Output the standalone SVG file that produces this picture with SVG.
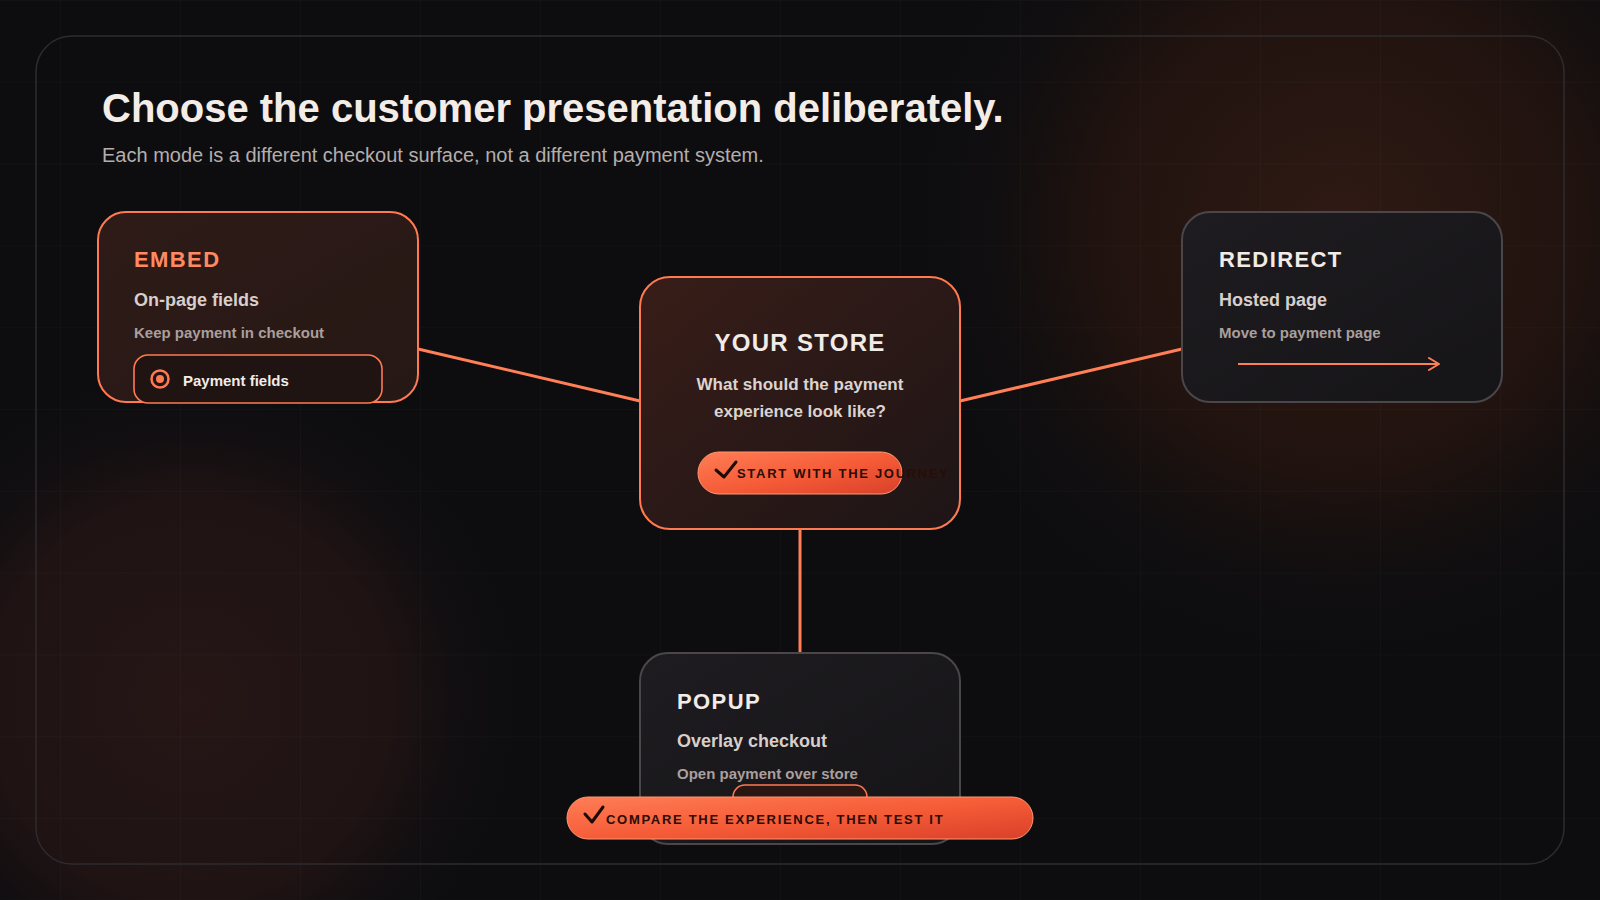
<svg xmlns="http://www.w3.org/2000/svg" width="1600" height="900" viewBox="0 0 1600 900">
  <defs>
    <radialGradient id="glowTR" cx="1340" cy="230" r="440" gradientUnits="userSpaceOnUse">
      <stop offset="0" stop-color="#301a15" stop-opacity="1"/>
      <stop offset="0.55" stop-color="#27150f" stop-opacity="0.75"/>
      <stop offset="1" stop-color="#0d0d10" stop-opacity="0"/>
    </radialGradient>
    <radialGradient id="glowBL" cx="190" cy="700" r="340" gradientUnits="userSpaceOnUse">
      <stop offset="0" stop-color="#261616" stop-opacity="1"/>
      <stop offset="0.6" stop-color="#221414" stop-opacity="0.85"/>
      <stop offset="1" stop-color="#0d0d10" stop-opacity="0"/>
    </radialGradient>
    <linearGradient id="warmCard" x1="0" y1="0" x2="1" y2="1">
      <stop offset="0" stop-color="#381d18"/>
      <stop offset="1" stop-color="#1e1516"/>
    </linearGradient>
    <linearGradient id="embedCard" x1="0" y1="0" x2="1" y2="1">
      <stop offset="0" stop-color="#2e1b17"/>
      <stop offset="1" stop-color="#261815"/>
    </linearGradient>
    <linearGradient id="coolCard" x1="0" y1="0" x2="1" y2="1">
      <stop offset="0" stop-color="#1e1c20"/>
      <stop offset="1" stop-color="#151417"/>
    </linearGradient>
    <linearGradient id="pill" x1="0" y1="0" x2="1" y2="1">
      <stop offset="0" stop-color="#ff7d55"/>
      <stop offset="0.55" stop-color="#f45a36"/>
      <stop offset="1" stop-color="#d8402a"/>
    </linearGradient>
    <pattern id="grid" x="60" y="0" width="120" height="81.8" patternUnits="userSpaceOnUse">
      <path d="M0 0 V81.8 M0 0 H120" fill="none" stroke="#ffffff" stroke-opacity="0.035" stroke-width="1"/>
    </pattern>
    <marker id="chev" markerWidth="14" markerHeight="14" refX="11" refY="7" orient="auto" markerUnits="userSpaceOnUse">
      <path d="M1 1 L11 7 L1 13" fill="none" stroke="#ff7f56" stroke-width="2" stroke-linecap="round" stroke-linejoin="round"/>
    </marker>
  </defs>
  <style>
    .card-warm { stroke: #ff7a50; stroke-width: 2; }
    .card-cool { fill: url(#coolCard); stroke: #4a464a; stroke-width: 2; }
    .label { font-family: "Liberation Sans", Arial, sans-serif; font-weight: 700; font-size: 22px; letter-spacing: 1.4px; fill: #f2ebe6; }
    .label-accent { fill: #ff8a62; }
    .sub { font-family: "Liberation Sans", Arial, sans-serif; font-weight: 700; font-size: 18px; fill: #d8ceca; }
    .desc { font-family: "Liberation Sans", Arial, sans-serif; font-weight: 700; font-size: 15px; fill: #a99f9c; }
    .pill-text { font-family: "Liberation Sans", Arial, sans-serif; font-weight: 700; font-size: 13px; letter-spacing: 1.7px; fill: #2a0c06; }
    .check { fill: none; stroke: #1c0a06; stroke-width: 3; stroke-linecap: round; stroke-linejoin: round; }
    .conn { stroke: #ff7f56; stroke-width: 3; fill: none; }
  </style>

  <!-- background -->
  <rect x="0" y="0" width="1600" height="900" fill="#0d0d10"/>
  <rect x="0" y="0" width="1600" height="900" fill="url(#glowTR)"/>
  <rect x="0" y="0" width="1600" height="900" fill="url(#glowBL)"/>
  <rect x="0" y="0" width="1600" height="900" fill="url(#grid)"/>

  <!-- frame -->
  <rect x="36" y="36" width="1528" height="828" rx="36" fill="none" stroke="#2e2b2f" stroke-width="1.5"/>

  <!-- heading -->
  <text x="102" y="122" font-family="Liberation Sans, Arial, sans-serif" font-weight="700" font-size="40" fill="#f4ede7">Choose the customer presentation deliberately.</text>
  <text x="102" y="162" font-family="Liberation Sans, Arial, sans-serif" font-size="20" fill="#b5aeab">Each mode is a different checkout surface, not a different payment system.</text>

  <!-- connectors -->
  <g id="connectors">
    <line class="conn" x1="418" y1="349" x2="640" y2="401"/>
    <line class="conn" x1="960" y1="401" x2="1182" y2="349"/>
    <line class="conn" x1="800" y1="529" x2="800" y2="653"/>
  </g>

  <!-- EMBED -->
  <g id="node-embed">
    <rect class="card-warm" x="98" y="212" width="320" height="190" rx="28" fill="url(#embedCard)"/>
    <text class="label label-accent" x="134" y="267">EMBED</text>
    <text class="sub" x="134" y="306">On-page fields</text>
    <text class="desc" x="134" y="338">Keep payment in checkout</text>
    <rect x="134" y="355" width="248" height="48" rx="14" fill="#1f1412" stroke="#ff7a50" stroke-width="1.6"/>
    <circle cx="160" cy="379" r="8.5" fill="none" stroke="#ff7a50" stroke-width="2.5"/>
    <circle cx="160" cy="379" r="4" fill="#ff7a50"/>
    <text x="183" y="386" font-family="Liberation Sans, Arial, sans-serif" font-weight="700" font-size="15" fill="#f2ebe6">Payment fields</text>
  </g>

  <!-- YOUR STORE -->
  <g id="node-store">
    <rect class="card-warm" x="640" y="277" width="320" height="252" rx="30" fill="url(#warmCard)"/>
    <text x="800" y="351" text-anchor="middle" font-family="Liberation Sans, Arial, sans-serif" font-weight="700" font-size="24" letter-spacing="1.3" fill="#f2ebe6">YOUR STORE</text>
    <text x="800" y="390" text-anchor="middle" font-family="Liberation Sans, Arial, sans-serif" font-weight="700" font-size="17" fill="#ddd3cf">What should the payment</text>
    <text x="800" y="417" text-anchor="middle" font-family="Liberation Sans, Arial, sans-serif" font-weight="700" font-size="17" fill="#ddd3cf">experience look like?</text>
    <rect x="698" y="452" width="204" height="42" rx="21" fill="url(#pill)" stroke="#ff9670" stroke-width="1"/>
    <path class="check" d="M716 470 L724 477 L736 462"/>
    <text class="pill-text" x="737" y="478">START WITH THE JOURNEY</text>
  </g>

  <!-- REDIRECT -->
  <g id="node-redirect">
    <rect class="card-cool" x="1182" y="212" width="320" height="190" rx="28"/>
    <text class="label" x="1219" y="267">REDIRECT</text>
    <text class="sub" x="1219" y="306">Hosted page</text>
    <text class="desc" x="1219" y="338">Move to payment page</text>
    <line x1="1238" y1="364" x2="1439" y2="364" stroke="#ff7f56" stroke-width="2" marker-end="url(#chev)"/>
  </g>

  <!-- POPUP -->
  <g id="node-popup">
    <rect class="card-cool" x="640" y="653" width="320" height="191" rx="28"/>
    <text class="label" x="677" y="709">POPUP</text>
    <text class="sub" x="677" y="747">Overlay checkout</text>
    <text class="desc" x="677" y="779">Open payment over store</text>
    <rect x="733" y="785" width="134" height="48" rx="12" fill="#2a1612" stroke="#ff7a50" stroke-width="1.6"/>
  </g>

  <!-- CTA -->
  <g id="node-cta">
    <rect x="567" y="797" width="466" height="42" rx="21" fill="url(#pill)" stroke="#ff9670" stroke-width="1"/>
    <path class="check" d="M585 814 L592 822 L603 807"/>
    <text class="pill-text" x="606" y="824">COMPARE THE EXPERIENCE, THEN TEST IT</text>
  </g>
</svg>
